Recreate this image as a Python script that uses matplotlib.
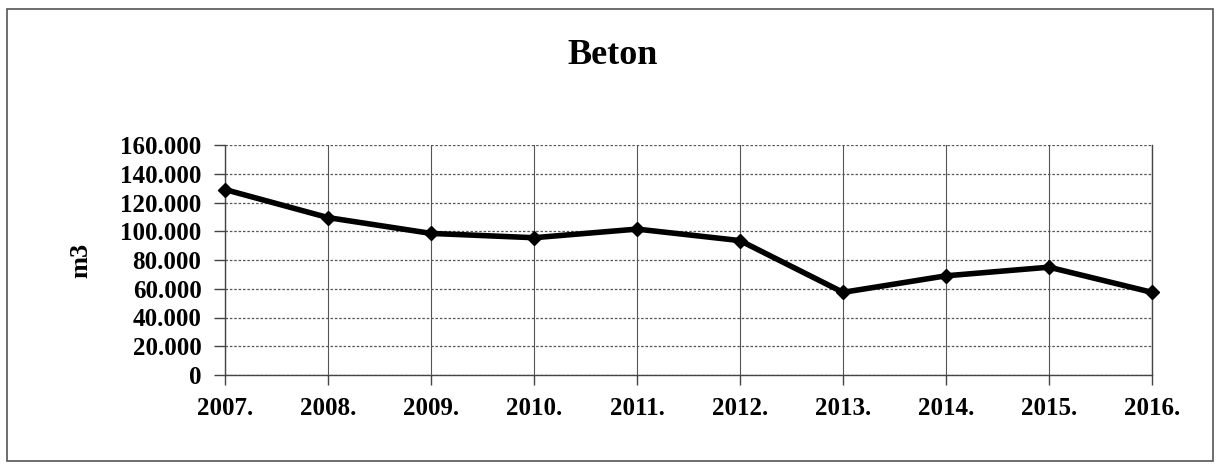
import numpy as np
import matplotlib.pyplot as plt
from matplotlib.patches import Rectangle

years = ['2007.', '2008.', '2009.', '2010.', '2011.', '2012.', '2013.', '2014.', '2015.', '2016.']
beton = [129000, 109500, 98500, 95500, 101500, 93500, 57500, 69000, 75000, 57500]
yticks = [0, 20000, 40000, 60000, 80000, 100000, 120000, 140000, 160000]
ylabels = ['0' if v == 0 else '{:,}'.format(v).replace(',', '.') for v in yticks]

plt.rcParams['font.family'] = ['Liberation Serif', 'DejaVu Serif']
plt.rcParams['font.weight'] = 'bold'

fig = plt.figure(figsize=(12.23, 4.67), dpi=100)
ax = fig.add_axes([225/1223, 92/467, (1152-225)/1223, (375-145)/467])

x = np.arange(len(years))
ax.plot(x, beton, color='black', lw=4, marker='D', ms=7, zorder=5, clip_on=False)

ax.set_xlim(0, len(years) - 1)
ax.set_ylim(0, 160000)
ax.set_xticks(x)
ax.set_xticklabels(years, fontsize=18, fontweight='bold')
ax.set_yticks(yticks)
ax.set_yticklabels(ylabels, fontsize=18, fontweight='bold')
ax.tick_params(axis='x', length=7, width=1, color='#444444', pad=9)
ax.tick_params(axis='y', length=8, width=1, color='#444444', pad=9)

ax.xaxis.grid(True, color='#555555', lw=0.8, ls='-')
ax.yaxis.grid(True, color='#555555', lw=0.9, ls=(0, (2, 1.5)))
ax.set_axisbelow(True)
ax.spines['top'].set_visible(False)
for s in ['left', 'bottom', 'right']:
    ax.spines[s].set_color('#444444')
    ax.spines[s].set_linewidth(1)

ax.set_ylabel('m3', fontsize=19, fontweight='bold', labelpad=20)

fig.text(613/1223, 1 - 55/467, 'Beton', ha='center', va='center', fontsize=26, fontweight='bold')

fig.patches.append(Rectangle((7/1223, 6/467), (1213-7)/1223, (458-6)/467,
                             transform=fig.transFigure, fill=False, edgecolor='#555555', lw=1.2))

fig.savefig('out.png', dpi=100)
